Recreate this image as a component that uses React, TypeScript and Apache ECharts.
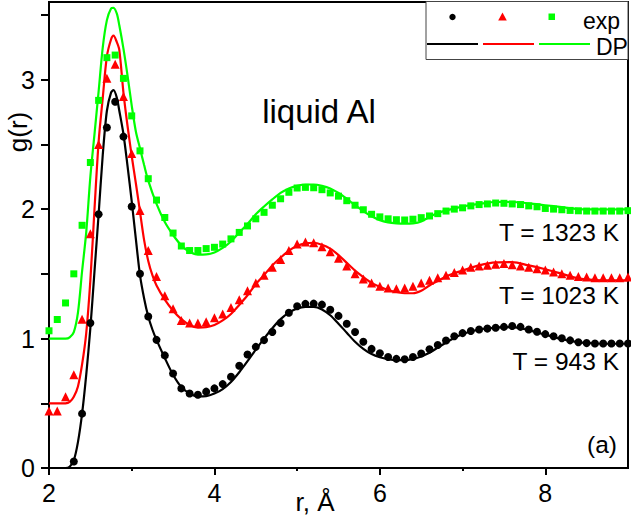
import React, { useEffect, useRef } from "react";
import * as echarts from "echarts";

// ---- data (r in Å, g(r) as plotted; red shifted +0.5, green +1.0) ----
const xTickLabels = [2, 4, 6, 8];
const xMinorTicks = [3, 5, 7];
const yTickLabels = [0, 1, 2, 3];
const yTicks = [0, 0.5, 1, 1.5, 2, 2.5, 3, 3.5];

const seriesNames = ["exp 943 K", "exp 1023 K", "exp 1323 K", "DP 943 K", "DP 1023 K", "DP 1323 K"];
const tempLabels = ["T = 943 K", "T = 1023 K", "T = 1323 K"];

const expBlack = [
  [2.3, 0.05], [2.4, 0.42], [2.5, 1.12], [2.6, 1.96], [2.7, 2.63], [2.8, 2.83], [2.9, 2.56],
  [3.0, 2.02], [3.1, 1.5], [3.2, 1.17], [3.3, 0.99], [3.4, 0.87], [3.5, 0.73], [3.6, 0.615],
  [3.7, 0.576], [3.8, 0.566], [3.9, 0.59], [4.0, 0.615], [4.1, 0.648], [4.2, 0.705], [4.3, 0.79],
  [4.4, 0.877], [4.5, 0.936], [4.6, 0.988], [4.7, 1.05], [4.8, 1.12], [4.9, 1.2], [5.0, 1.25],
  [5.1, 1.268], [5.2, 1.27], [5.3, 1.262], [5.4, 1.223], [5.5, 1.175], [5.6, 1.115], [5.7, 1.05],
  [5.8, 0.975], [5.9, 0.92], [6.0, 0.887], [6.1, 0.858], [6.2, 0.843], [6.3, 0.84], [6.4, 0.858],
  [6.5, 0.885], [6.6, 0.918], [6.7, 0.95], [6.8, 0.985], [6.9, 1.018], [7.0, 1.042], [7.1, 1.058],
  [7.2, 1.07], [7.3, 1.077], [7.4, 1.083], [7.5, 1.09], [7.6, 1.097], [7.7, 1.09], [7.8, 1.07],
  [7.9, 1.052], [8.0, 1.034], [8.1, 1.018], [8.2, 1.002], [8.3, 0.986], [8.4, 0.972], [8.5, 0.965],
  [8.6, 0.962], [8.7, 0.962], [8.8, 0.962], [8.9, 0.962], [9.0, 0.962],
];

const expRed = [
  [2.0, 0.44], [2.1, 0.44], [2.2, 0.55], [2.3, 0.72], [2.4, 1.15], [2.5, 1.81], [2.6, 2.5],
  [2.7, 3.01], [2.8, 3.12], [2.9, 2.87], [3.0, 2.43], [3.1, 1.99], [3.2, 1.68], [3.3, 1.48],
  [3.4, 1.33], [3.5, 1.23], [3.6, 1.14], [3.7, 1.12], [3.8, 1.12], [3.9, 1.13], [4.0, 1.16],
  [4.1, 1.19], [4.2, 1.24], [4.3, 1.3], [4.4, 1.37], [4.5, 1.43], [4.6, 1.49], [4.7, 1.55],
  [4.8, 1.61], [4.9, 1.68], [5.0, 1.73], [5.1, 1.746], [5.2, 1.74], [5.3, 1.71], [5.4, 1.67],
  [5.5, 1.62], [5.6, 1.56], [5.7, 1.5], [5.8, 1.46], [5.9, 1.43], [6.0, 1.405], [6.1, 1.39],
  [6.2, 1.385], [6.3, 1.39], [6.4, 1.405], [6.5, 1.43], [6.6, 1.45], [6.7, 1.47], [6.8, 1.49],
  [6.9, 1.51], [7.0, 1.53], [7.1, 1.55], [7.2, 1.56], [7.3, 1.566], [7.4, 1.574], [7.5, 1.58],
  [7.6, 1.57], [7.7, 1.56], [7.8, 1.55], [7.9, 1.54], [8.0, 1.53], [8.1, 1.515], [8.2, 1.5],
  [8.3, 1.49], [8.4, 1.48], [8.5, 1.475], [8.6, 1.47], [8.7, 1.47], [8.8, 1.47], [8.9, 1.47],
  [9.0, 1.475],
];

const expGreen = [
  [2.0, 1.06], [2.1, 1.147], [2.2, 1.275], [2.3, 1.5], [2.4, 1.875], [2.5, 2.36], [2.6, 2.84],
  [2.7, 3.17], [2.8, 3.19], [2.9, 3.01], [3.0, 2.72], [3.1, 2.45], [3.2, 2.235], [3.3, 2.07],
  [3.4, 1.935], [3.5, 1.815], [3.6, 1.715], [3.7, 1.68], [3.8, 1.68], [3.9, 1.695], [4.0, 1.705],
  [4.1, 1.73], [4.2, 1.77], [4.3, 1.82], [4.4, 1.87], [4.5, 1.925], [4.6, 1.975], [4.7, 2.03],
  [4.8, 2.08], [4.9, 2.13], [5.0, 2.163], [5.1, 2.168], [5.2, 2.165], [5.3, 2.15], [5.4, 2.125],
  [5.5, 2.1], [5.6, 2.065], [5.7, 2.03], [5.8, 1.995], [5.9, 1.96], [6.0, 1.94], [6.1, 1.925],
  [6.2, 1.918], [6.3, 1.916], [6.4, 1.922], [6.5, 1.934], [6.6, 1.947], [6.7, 1.965], [6.8, 1.985],
  [6.9, 2.0], [7.0, 2.01], [7.1, 2.025], [7.2, 2.035], [7.3, 2.04], [7.4, 2.047], [7.5, 2.045],
  [7.6, 2.04], [7.7, 2.035], [7.8, 2.025], [7.9, 2.018], [8.0, 2.005], [8.1, 2.0], [8.2, 1.995],
  [8.3, 1.99], [8.4, 1.987], [8.5, 1.985], [8.6, 1.985], [8.7, 1.985], [8.8, 1.985], [8.9, 1.985],
  [9.0, 1.988],
];

const dpBlack = [
  [2.0, 0], [2.2, 0], [2.25, 0.01], [2.3, 0.06], [2.35, 0.2], [2.4, 0.42], [2.45, 0.72],
  [2.5, 1.08], [2.55, 1.52], [2.6, 1.96], [2.65, 2.42], [2.7, 2.76], [2.75, 2.9], [2.78, 2.92],
  [2.82, 2.86], [2.85, 2.76], [2.9, 2.58], [2.95, 2.33], [3.0, 2.06], [3.05, 1.77], [3.1, 1.49],
  [3.15, 1.31], [3.2, 1.17], [3.25, 1.07], [3.3, 0.99], [3.4, 0.85], [3.5, 0.72], [3.6, 0.625],
  [3.7, 0.575], [3.8, 0.553], [3.9, 0.555], [4.0, 0.575], [4.1, 0.61], [4.2, 0.665], [4.3, 0.74],
  [4.4, 0.825], [4.5, 0.915], [4.6, 1.0], [4.7, 1.08], [4.8, 1.15], [4.9, 1.2], [5.0, 1.232],
  [5.1, 1.245], [5.2, 1.245], [5.3, 1.225], [5.4, 1.18], [5.5, 1.115], [5.6, 1.045], [5.7, 0.975],
  [5.8, 0.92], [5.9, 0.88], [6.0, 0.855], [6.1, 0.84], [6.2, 0.833], [6.3, 0.833], [6.4, 0.842],
  [6.5, 0.862], [6.6, 0.89], [6.7, 0.93], [6.8, 0.97], [6.9, 1.005], [7.0, 1.035], [7.2, 1.07],
  [7.4, 1.085], [7.6, 1.088], [7.8, 1.065], [8.0, 1.03], [8.2, 0.995], [8.4, 0.972], [8.6, 0.962],
  [8.8, 0.96], [9.0, 0.96],
];

const dpRed = [
  [2.0, 0.5], [2.2, 0.5], [2.25, 0.51], [2.3, 0.55], [2.35, 0.63], [2.4, 0.8], [2.45, 1.04],
  [2.5, 1.45], [2.55, 2.0], [2.6, 2.52], [2.65, 2.86], [2.7, 3.18], [2.75, 3.31], [2.78, 3.34],
  [2.82, 3.29], [2.85, 3.23], [2.9, 2.9], [2.95, 2.64], [3.0, 2.41], [3.05, 2.2], [3.1, 1.98],
  [3.15, 1.76], [3.2, 1.6], [3.25, 1.49], [3.3, 1.41], [3.4, 1.3], [3.5, 1.215], [3.6, 1.15],
  [3.7, 1.105], [3.8, 1.085], [3.9, 1.088], [4.0, 1.105], [4.1, 1.14], [4.2, 1.19], [4.3, 1.26],
  [4.4, 1.335], [4.5, 1.42], [4.6, 1.49], [4.7, 1.565], [4.8, 1.625], [4.9, 1.68], [5.0, 1.715],
  [5.1, 1.735], [5.2, 1.74], [5.3, 1.725], [5.4, 1.695], [5.5, 1.645], [5.6, 1.585], [5.7, 1.525],
  [5.8, 1.475], [5.9, 1.43], [6.0, 1.4], [6.1, 1.375], [6.2, 1.36], [6.3, 1.35], [6.4, 1.35],
  [6.5, 1.37], [6.6, 1.41], [6.7, 1.445], [6.8, 1.48], [6.9, 1.505], [7.0, 1.525], [7.2, 1.565],
  [7.4, 1.588], [7.6, 1.59], [7.8, 1.565], [8.0, 1.535], [8.2, 1.5], [8.4, 1.465], [8.6, 1.452],
  [8.8, 1.45], [9.0, 1.45],
];

const dpGreen = [
  [2.0, 1.0], [2.2, 1.0], [2.25, 1.01], [2.3, 1.05], [2.35, 1.2], [2.4, 1.52], [2.45, 1.82],
  [2.5, 2.25], [2.55, 2.58], [2.6, 2.91], [2.65, 3.25], [2.7, 3.46], [2.75, 3.55], [2.78, 3.555],
  [2.82, 3.51], [2.85, 3.42], [2.9, 3.24], [2.95, 3.03], [3.0, 2.8], [3.05, 2.6], [3.1, 2.47],
  [3.15, 2.34], [3.2, 2.22], [3.3, 2.04], [3.4, 1.9], [3.5, 1.8], [3.6, 1.72], [3.7, 1.67],
  [3.8, 1.648], [3.9, 1.65], [4.0, 1.665], [4.1, 1.7], [4.2, 1.75], [4.3, 1.82], [4.4, 1.885],
  [4.5, 1.96], [4.6, 2.02], [4.7, 2.075], [4.8, 2.125], [4.9, 2.16], [5.0, 2.18], [5.1, 2.19],
  [5.2, 2.19], [5.3, 2.18], [5.4, 2.16], [5.5, 2.125], [5.6, 2.08], [5.7, 2.03], [5.8, 1.985],
  [5.9, 1.945], [6.0, 1.915], [6.1, 1.898], [6.2, 1.89], [6.3, 1.887], [6.4, 1.89], [6.5, 1.905],
  [6.6, 1.94], [6.7, 1.97], [6.8, 1.99], [6.9, 2.005], [7.0, 2.02], [7.2, 2.04], [7.4, 2.055],
  [7.6, 2.055], [7.8, 2.045], [8.0, 2.03], [8.2, 2.015], [8.4, 2.0], [8.6, 1.998], [8.8, 1.997],
  [9.0, 1.998],
];

const FONT = "'Liberation Sans', Arial, Helvetica, sans-serif";
const BLACK = "#000000";
const RED = "#ff0000";
const GREEN = "#00ff00";

export default function App() {
  const ref = useRef<HTMLDivElement>(null);

  useEffect(() => {
    if (!ref.current) return;
    const chart = echarts.init(ref.current, null, { renderer: "svg" });

    const lineSeries = (name: string, data: number[][], color: string) => ({
      name,
      type: "line",
      data,
      showSymbol: false,
      smooth: 0.3,
      lineStyle: { color, width: 2.2 },
      itemStyle: { color },
      z: 2,
    });
    const scatterSeries = (name: string, data: number[][], color: string, symbol: string, size: number) => ({
      name,
      type: "scatter",
      data,
      symbol,
      symbolSize: size,
      itemStyle: { color, opacity: 1 },
      z: 3,
    });

    const text = (t: string, x: number, y: number, size: number, align: string, extra: any = {}) => ({
      type: "text",
      x,
      y,
      silent: true,
      ...extra,
      style: {
        text: t,
        font: `${size}px ${FONT}`,
        fill: BLACK,
        align,
        verticalAlign: "middle",
      },
      z: 10,
    });

    const option: any = {
      animation: false,
      backgroundColor: "#ffffff",
      grid: {
        left: 49,
        right: 3,
        top: 2,
        bottom: 53,
        show: true,
        borderColor: BLACK,
        borderWidth: 2,
        backgroundColor: "transparent",
      },
      xAxis: [
        {
          type: "value",
          min: 2,
          max: 9,
          interval: 1,
          axisLine: { show: true, lineStyle: { color: BLACK, width: 2 } },
          axisTick: { show: true, length: 7, lineStyle: { color: BLACK, width: 2 }, customValues: xTickLabels },
          axisLabel: {
            customValues: xTickLabels,
            color: BLACK,
            fontSize: 25,
            fontFamily: FONT,
            margin: 12,
          },
          splitLine: { show: false },
        },
        {
          type: "value",
          min: 2,
          max: 9,
          interval: 1,
          position: "bottom",
          axisLine: { show: false },
          axisTick: { show: true, length: 3, lineStyle: { color: BLACK, width: 2 }, customValues: xMinorTicks },
          axisLabel: { show: false },
          splitLine: { show: false },
        },
      ],
      yAxis: {
        type: "value",
        min: 0,
        max: 3.6,
        interval: 0.5,
        axisLine: { show: true, lineStyle: { color: BLACK, width: 2 } },
        axisTick: { show: true, length: 8, lineStyle: { color: BLACK, width: 2 }, customValues: yTicks },
        axisLabel: {
          customValues: yTickLabels,
          color: BLACK,
          fontSize: 25,
          fontFamily: FONT,
          margin: 14,
        },
        splitLine: { show: false },
      },
      series: [
        lineSeries(seriesNames[3], dpBlack, BLACK),
        lineSeries(seriesNames[4], dpRed, RED),
        lineSeries(seriesNames[5], dpGreen, GREEN),
        scatterSeries(seriesNames[0], expBlack, BLACK, "circle", 8),
        scatterSeries(seriesNames[1], expRed, RED, "triangle", 9),
        scatterSeries(seriesNames[2], expGreen, GREEN, "rect", 7),
      ],
      graphic: [
        // legend box
        {
          type: "rect",
          silent: true,
          shape: { x: 426, y: 1.5, width: 202, height: 58 },
          style: { fill: "#ffffff", stroke: "#444444", lineWidth: 1 },
          z: 9,
        },
        { type: "circle", silent: true, shape: { cx: 452.5, cy: 17, r: 3.2 }, style: { fill: BLACK }, z: 10 },
        {
          type: "polygon",
          silent: true,
          shape: { points: [[502.5, 12.5], [506.8, 20.5], [498.2, 20.5]] },
          style: { fill: RED },
          z: 10,
        },
        { type: "rect", silent: true, shape: { x: 548.5, y: 13.5, width: 6.5, height: 6.5 }, style: { fill: GREEN }, z: 10 },
        { type: "line", silent: true, shape: { x1: 427, y1: 44, x2: 478, y2: 44 }, style: { stroke: BLACK, lineWidth: 2 }, z: 10 },
        { type: "line", silent: true, shape: { x1: 483, y1: 44, x2: 534, y2: 44 }, style: { stroke: RED, lineWidth: 2 }, z: 10 },
        { type: "line", silent: true, shape: { x1: 539, y1: 44, x2: 590, y2: 44 }, style: { stroke: GREEN, lineWidth: 2 }, z: 10 },
        text("exp", 583, 21, 23, "left"),
        text("DP", 596, 47, 23, "left"),
        // annotations
        text("liquid Al", 319, 111, 33, "center"),
        text(tempLabels[2], 619, 232, 24.5, "right"),
        text(tempLabels[1], 619, 295, 24.5, "right"),
        text(tempLabels[0], 619, 361, 24.5, "right"),
        text("(a)", 617, 444, 24.5, "right"),
        // axis names
        text("g(r)", 18, 132, 26, "center", { rotation: Math.PI / 2 }),
        text("r, Å", 315, 502, 26, "center"),
      ],
    };

    chart.setOption(option);
    return () => chart.dispose();
  }, []);

  return (
    <div
      ref={ref}
      style={{ position: "fixed", left: 0, top: 0, width: 631, height: 521, background: "#fff" }}
    />
  );
}
